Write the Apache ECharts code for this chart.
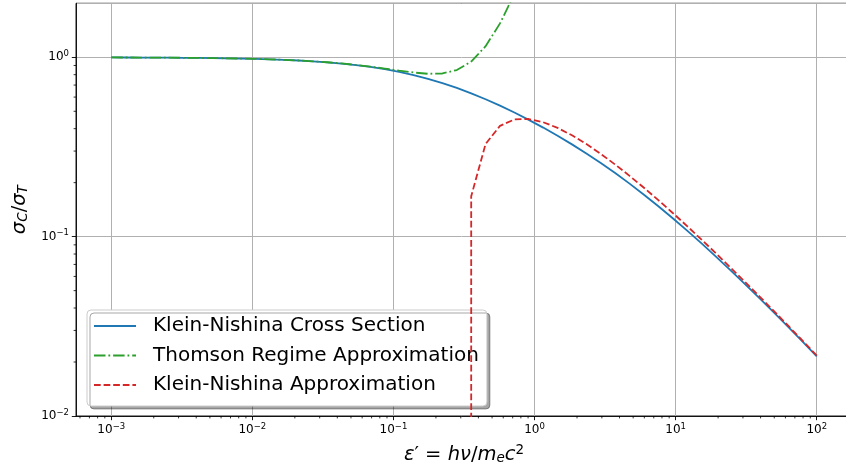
<!DOCTYPE html>
<html>
<head>
<meta charset="utf-8">
<script src="https://cdn.jsdelivr.net/npm/echarts@6/dist/echarts.min.js"></script>
<style>
html,body{margin:0;padding:0;background:#fff;}
#chart{width:846px;height:470px;}
</style>
</head>
<body>
<div id="chart"></div>
<script>
// photon energy ε' = hν / m_e c^2 (log-spaced samples)
const energies = [0.001, 0.0012649, 0.0016, 0.0020236, 0.0025595, 0.0032375, 0.0040949, 0.0051795, 0.0065513, 0.0082864,
  0.010481, 0.013257, 0.016768, 0.02121, 0.026827, 0.033932, 0.042919, 0.054287, 0.068665, 0.086851,
  0.10985, 0.13895, 0.17575, 0.2223, 0.28118, 0.35565, 0.44984, 0.56899, 0.71968, 0.91029,
  1.1514, 1.4563, 1.8421, 2.33, 2.9471, 3.7276, 4.7149, 5.9636, 7.5431, 9.541,
  12.068, 15.264, 19.307, 24.421, 30.889, 39.07, 49.417, 62.506, 79.06, 100];

// σ_C/σ_T, Klein-Nishina cross section
const kleinNishina = [0.99800, 0.99748, 0.99681, 0.99597, 0.99492, 0.99358, 0.99190, 0.98978, 0.98712, 0.98378,
  0.97959, 0.97437, 0.96787, 0.95980, 0.94985, 0.93764, 0.92279, 0.90487, 0.88351, 0.85835,
  0.82919, 0.79594, 0.75886, 0.71831, 0.67499, 0.62978, 0.58362, 0.53743, 0.49199, 0.44789,
  0.40555, 0.36519, 0.32697, 0.29099, 0.25736, 0.22617, 0.19748, 0.17134, 0.14776, 0.12668,
  0.10802, 0.091653, 0.077404, 0.065096, 0.054537, 0.045534, 0.037899, 0.031456, 0.026042, 0.021511];

// Thomson regime approximation (first 29 energies; leaves the plot at the top)
const thomson = [0.99800, 0.99748, 0.99681, 0.99597, 0.99492, 0.99358, 0.99190, 0.98978, 0.98712, 0.98378,
  0.97961, 0.97440, 0.96793, 0.95992, 0.95009, 0.93812, 0.92374, 0.90675, 0.88719, 0.86552,
  0.84305, 0.82250, 0.80912, 0.81237, 0.84876, 0.94643, 1.15257, 1.54552, 2.25392];

// Klein-Nishina (ultra-relativistic) approximation, from energies[25] on
const knApproxStart = 25;
const knApprox = [0.16801, 0.32869, 0.41472, 0.45030, 0.45280, 0.43451, 0.40403, 0.36726, 0.32817, 0.28935,
  0.25240, 0.21823, 0.18731, 0.15977, 0.13555, 0.11447, 0.096272, 0.080676, 0.067391, 0.056131,
  0.046633, 0.038652, 0.031967, 0.026388, 0.021744];
// below this energy the approximation is negative: the curve drops off the bottom of the log axis
const knApproxDrop = 1e-4;

const seriesNames = ['Klein-Nishina Cross Section', 'Thomson Regime Approximation', 'Klein-Nishina Approximation'];

// axis ranges and minor tick values
const xRange = [0.00056234, 177.828];
const yRange = [0.01, 2];
const xMinorTicks = [6e-4, 7e-4, 8e-4, 9e-4,
  2e-3, 3e-3, 4e-3, 5e-3, 6e-3, 7e-3, 8e-3, 9e-3,
  2e-2, 3e-2, 4e-2, 5e-2, 6e-2, 7e-2, 8e-2, 9e-2,
  0.2, 0.3, 0.4, 0.5, 0.6, 0.7, 0.8, 0.9,
  2, 3, 4, 5, 6, 7, 8, 9,
  20, 30, 40, 50, 60, 70, 80, 90];
const yMinorTicks = [0.02, 0.03, 0.04, 0.05, 0.06, 0.07, 0.08, 0.09,
  0.2, 0.3, 0.4, 0.5, 0.6, 0.7, 0.8, 0.9];

const FONT = 'DejaVu Sans';
const pair = (xs, ys) => ys.map((y, i) => [xs[i], y]);

const blueData = pair(energies, kleinNishina);
const greenData = pair(energies, thomson);
const redX = energies.slice(knApproxStart);
const redData = [[redX[0], knApproxDrop]].concat(pair(redX, knApprox));

function powLabel(v) {
  const e = Math.log10(v);
  const r = Math.round(e);
  if (Math.abs(e - r) > 1e-6) return '';
  const s = r < 0 ? '\u2212' + (-r) : '' + r;
  return '{b|10}{s|' + s + '}';
}
const tickRich = {
  b: {fontSize: 12, fontFamily: FONT, color: '#000'},
  s: {fontSize: 8.5, fontFamily: FONT, color: '#000', padding: [0, 0, 7, 0]}
};
const mathRich = {
  i: {fontSize: 19.5, fontFamily: FONT, fontStyle: 'italic', color: '#000'},
  n: {fontSize: 19.5, fontFamily: FONT, color: '#000'},
  sb: {fontSize: 13.5, fontFamily: FONT, fontStyle: 'italic', color: '#000', padding: [7, 0, 0, 0]},
  sp: {fontSize: 13.5, fontFamily: FONT, color: '#000', padding: [0, 0, 9, 0]}
};

const chart = echarts.init(document.getElementById('chart'), null, {renderer: 'canvas'});
chart.setOption({
  animation: false,
  backgroundColor: '#ffffff',
  grid: {left: 76, top: 3.3, width: 776, height: 412.7, outerBoundsMode: 'none', containLabel: false,
         show: true, borderColor: '#000', borderWidth: 0.9, backgroundColor: 'transparent'},
  xAxis: {
    type: 'log', min: xRange[0], max: xRange[1],
    axisLine: {show: true, lineStyle: {color: '#000', width: 0.9}},
    axisTick: {show: true, length: 4.2, lineStyle: {color: '#000', width: 0.9}},
    axisLabel: {margin: 6, formatter: powLabel, rich: tickRich, showMinLabel: false, showMaxLabel: false},
    splitLine: {show: true, lineStyle: {color: '#b0b0b0', width: 1}},
    name: '{i|ε}{n|′ = }{i|hν}{n|/}{i|m}{sb|e}{i|c}{sp|2}',
    nameLocation: 'middle', nameGap: 27,
    nameTextStyle: {rich: mathRich}
  },
  yAxis: {
    type: 'log', min: yRange[0], max: yRange[1],
    axisLine: {show: true, lineStyle: {color: '#000', width: 0.9}},
    axisTick: {show: true, length: 4.2, lineStyle: {color: '#000', width: 0.9}},
    axisLabel: {margin: 7, formatter: powLabel, rich: tickRich, showMinLabel: true, showMaxLabel: false},
    splitLine: {show: true, lineStyle: {color: '#b0b0b0', width: 1}},
    name: '{i|σ}{sb|C}{n|/}{i|σ}{sb|T}',
    nameLocation: 'middle', nameGap: 43,
    nameTextStyle: {rich: mathRich}
  },
  legend: {
    orient: 'vertical', left: 87, top: 310,
    padding: [5, 8, 10, 6],
    itemWidth: 42, itemHeight: 14, itemGap: 7.5,
    backgroundColor: '#ffffff', borderColor: '#cccccc', borderWidth: 1, borderRadius: 4,
    shadowColor: 'rgba(0,0,0,0.35)', shadowBlur: 0, shadowOffsetX: 3, shadowOffsetY: 3,
    selectedMode: false,
    itemStyle: {opacity: 0, color: 'transparent', borderWidth: 0},
    textStyle: {fontSize: 20, fontFamily: FONT, color: '#000', lineHeight: 22, padding: [0, 0, 0, 12]},
    data: seriesNames
  },
  series: [
    {name: seriesNames[0], type: 'line', data: blueData, showSymbol: false, symbol: 'none', clip: true,
     lineStyle: {color: '#1f77b4', width: 1.8}, itemStyle: {color: '#1f77b4'}, z: 3},
    {name: seriesNames[1], type: 'line', data: greenData, showSymbol: false, symbol: 'none', clip: true,
     lineStyle: {color: '#2ca02c', width: 1.8, type: [11.5, 2.9, 1.8, 2.9]}, itemStyle: {color: '#2ca02c'}, z: 4},
    {name: seriesNames[2], type: 'line', data: redData, showSymbol: false, symbol: 'none', clip: true,
     lineStyle: {color: '#d62728', width: 1.8, type: [6.7, 2.9]}, itemStyle: {color: '#d62728'}, z: 5},
    {type: 'custom', silent: true, clip: false, z: 10,
     data: xMinorTicks.map(v => [v, yRange[0]]),
     renderItem: function (params, api) {
       const p = api.coord([api.value(0), api.value(1)]);
       return {type: 'line', shape: {x1: p[0], y1: p[1], x2: p[0], y2: p[1] + 2.4},
               style: {stroke: '#000', lineWidth: 0.8}};
     }},
    {type: 'custom', silent: true, clip: false, z: 10,
     data: yMinorTicks.map(v => [xRange[0], v]),
     renderItem: function (params, api) {
       const p = api.coord([api.value(0), api.value(1)]);
       return {type: 'line', shape: {x1: p[0], y1: p[1], x2: p[0] - 2.4, y2: p[1]},
               style: {stroke: '#000', lineWidth: 0.8}};
     }}
  ]
});
</script>
</body>
</html>
